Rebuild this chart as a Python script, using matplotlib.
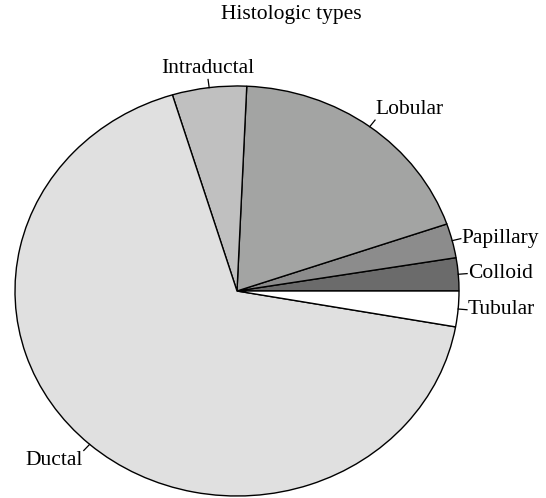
import numpy as np
import matplotlib
matplotlib.use("Agg")
import matplotlib.pyplot as plt

labels = ["Colloid", "Papillary", "Lobular", "Intraductal", "Ductal", "Tubular"]
values = [2.6, 2.7, 19.0, 5.4, 67.5, 2.8]
colors = ["#6b6b6b", "#8c8c8c", "#a3a4a3", "#c0c0c0", "#e0e0e0", "#ffffff"]
title = "Histologic types"

plt.rcParams['font.family'] = ['Liberation Serif', 'DejaVu Serif']

fig = plt.figure(figsize=(5.46, 4.98), dpi=100)
ax = fig.add_axes([15/546, 1-496/498, 444/546, 410/498])
wedges, _ = ax.pie(values, colors=colors, startangle=0, counterclock=True,
                   radius=1, center=(0, 0),
                   wedgeprops=dict(edgecolor="black", linewidth=1.0))
ax.set_aspect('auto')
ax.set_xlim(-1, 1)
ax.set_ylim(-1, 1)
ax.axis('off')

for w, lab in zip(wedges, labels):
    th = np.deg2rad((w.theta1 + w.theta2) / 2)
    c, s = np.cos(th), np.sin(th)
    x0, y0 = c, s
    x1, y1 = 1.04 * c, 1.04 * s
    ax.plot([x0, x1], [y0, y1], color="black", lw=0.9, clip_on=False)
    ha = 'left' if c > 0.3 else ('right' if c < -0.3 else 'center')
    va = 'bottom' if s > 0.3 else ('top' if s < -0.3 else 'center')
    ax.text(1.045 * c, 1.045 * s, lab, ha=ha, va=va, fontsize=15.5)

fig.text(291/546, 1-14/498, title, ha='center', va='center', fontsize=15.5)

fig.savefig("out.png", dpi=100)
